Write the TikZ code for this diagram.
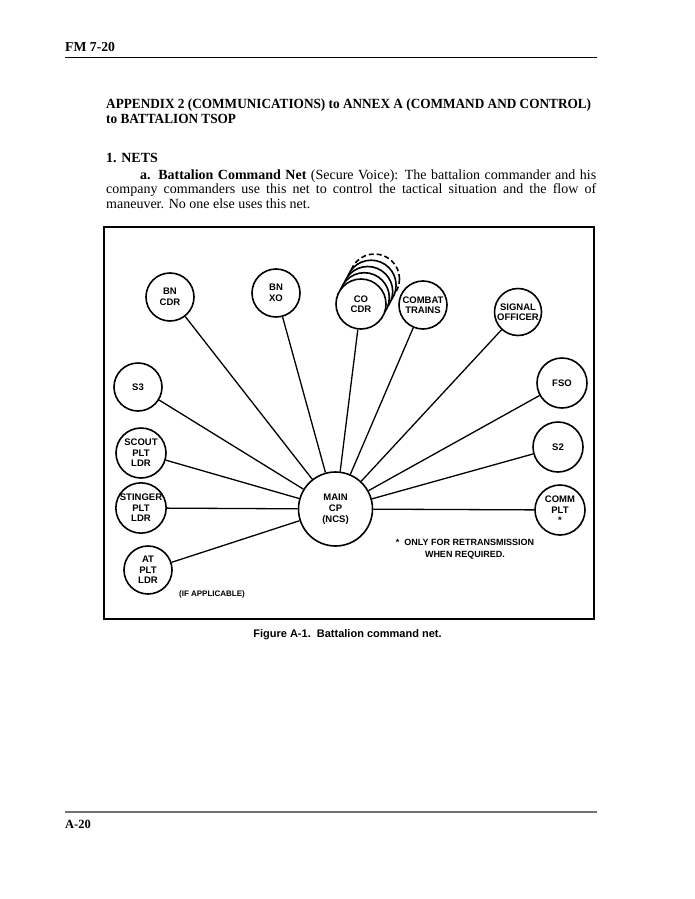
\documentclass[tikz,border=0pt]{standalone}
\usepackage{fontspec}
\usepackage{graphicx}
\setmainfont{Liberation Serif}
\newfontfamily\diagfont{Liberation Sans}
\newlength\titlew
\AtBeginDocument{\settowidth\titlew{\bfseries\fontsize{14}{16}\selectfont APPENDIX 2 (COMMUNICATIONS) to ANNEX A (COMMAND AND CONTROL)}}
\begin{document}
\begin{tikzpicture}[x=1pt,y=-1pt,
  station/.style={circle, draw, line width=1.6pt, fill=white, inner sep=0pt, align=center,
    font=\diagfont\bfseries\fontsize{9.5}{10.5}\selectfont},
  link/.style={line width=1.3pt},
  bodyline/.style={anchor=base west, inner sep=0pt, font=\fontsize{14}{16}\selectfont},
  headline/.style={anchor=base west, inner sep=0pt, font=\bfseries\fontsize{13.7}{16}\selectfont},
  notetext/.style={inner sep=0pt, align=center, font=\diagfont\bfseries\fontsize{9}{12}\selectfont}]
\useasboundingbox (0,0) rectangle (695,899);
\fill[white] (0,0) rectangle (695,899);
% header
\node[headline] (hdr) at (65,51.5) {FM 7-20};
\draw[line width=1.5pt] (65,57.5) -- (597,57.5);
\pgfmathsetmacro\tfac{485/\titlew}
\node[anchor=base west, inner sep=0pt, font=\bfseries\fontsize{14}{16}\selectfont] (title1) at (106,108.5)
  {\scalebox{\tfac}[1]{APPENDIX 2 (COMMUNICATIONS) to ANNEX A (COMMAND AND CONTROL)}};
\node[anchor=base west, inner sep=0pt, font=\bfseries\fontsize{14}{16}\selectfont] (title2) at (106,123.5)
  {\scalebox{\tfac}[1]{to BATTALION TSOP}};
\node[anchor=base west, inner sep=0pt, font=\bfseries\fontsize{14}{16}\selectfont] (nets) at (106,162.5) {1. NETS};
\node[bodyline] (p1) at (140,179) {\hbox to 456pt{\textbf{a. Battalion Command Net} (Secure Voice): The battalion commander and his}};
\node[bodyline] (p2) at (106,193.5) {\hbox to 490pt{company commanders use this net to control the tactical situation and the flow of}};
\node[bodyline] (p3) at (106,208) {maneuver. No one else uses this net.};
% frame
\draw[line width=1.4pt] (104,227) rectangle (594,619);
% stations
\node[station, minimum size=48pt] (bncdr) at (170,297) {BN\\CDR};
\node[station, minimum size=48pt] (bnxo) at (276,293) {BN\\XO};
\node[station, minimum size=50pt, dash pattern=on 5pt off 3pt] (stack4) at (374.5,279) {};
\node[station, minimum size=50pt] (stack3) at (371.1,285.2) {};
\node[station, minimum size=50pt] (stack2) at (367.7,291.5) {};
\node[station, minimum size=50pt] (stack1) at (364.3,297.7) {};
\node[station, minimum size=50pt] (cocdr) at (361,304) {CO\\CDR};
\node[station, minimum size=48pt] (combat) at (423,305) {COMBAT\\TRAINS};
\node[station, minimum size=47pt] (signal) at (518,312) {SIGNAL\\OFFICER};
\node[station, minimum size=48pt] (s3) at (138,387) {S3};
\node[station, minimum size=50pt] (scout) at (141,453) {SCOUT\\PLT\\LDR};
\node[station, minimum size=50pt] (stinger) at (141,508) {STINGER\\PLT\\LDR};
\node[station, minimum size=48pt] (atldr) at (148,570) {AT\\PLT\\LDR};
\node[station, minimum size=74pt, font=\diagfont\bfseries\fontsize{9.5}{11}\selectfont] (main) at (335.5,509) {MAIN\\CP\\(NCS)};
\node[station, minimum size=50pt] (fso) at (562,383) {FSO};
\node[station, minimum size=50pt] (s2) at (558,447) {S2};
\node[station, minimum size=50pt] (comm) at (560,510) {COMM\\PLT\\*};
% links
\foreach \n in {bncdr,bnxo,cocdr,combat,signal,s3,scout,stinger,atldr,fso,s2,comm}
  \draw[link] (\n) -- (main);
% notes
\node[notetext] (note) at (465,549) {*~~ONLY FOR RETRANSMISSION\\WHEN REQUIRED.};
\node[notetext, font=\diagfont\bfseries\fontsize{8}{10}\selectfont] (ifapp) at (212,594) {(IF APPLICABLE)};
\node[inner sep=0pt, font=\diagfont\bfseries\fontsize{11}{13}\selectfont] (caption) at (347.5,635) {Figure A-1.~~Battalion command net.};
% footer
\draw[line width=1.5pt, black!55] (65,812) -- (597,812);
\node[headline, font=\bfseries\fontsize{12.5}{15}\selectfont] (foot) at (65,828) {A-20};
\end{tikzpicture}
\end{document}
